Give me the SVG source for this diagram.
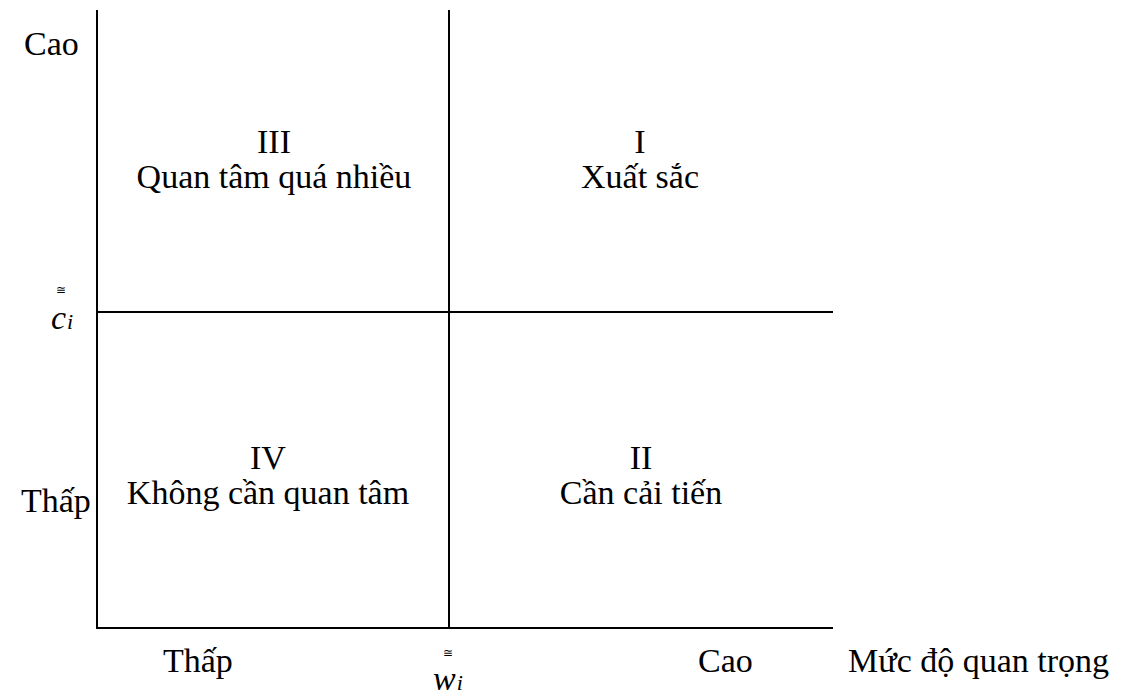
<svg xmlns="http://www.w3.org/2000/svg" width="1125" height="697" viewBox="0 0 1125 697">
<style>
text{font-family:"Liberation Serif","Times New Roman",serif;fill:#000}
.t{font-size:34px}
.m{text-anchor:middle}
.sym{font-size:12px}
.it{font-style:italic}
line{stroke:#000;stroke-width:2}
</style>
<rect width="1125" height="697" fill="#fff"/>
<g id="axes">
<line x1="97" y1="10" x2="97" y2="629"/>
<line x1="96" y1="628" x2="833" y2="628"/>
<line x1="449" y1="10" x2="449" y2="628"/>
<line x1="97" y1="312" x2="833" y2="312"/>
</g>
<g id="q3"><text class="t m" x="274" y="153">III</text><text class="t m" x="274" y="188">Quan tâm quá nhiều</text></g>
<g id="q1"><text class="t m" x="640" y="153">I</text><text class="t m" x="640" y="188">Xuất sắc</text></g>
<g id="q4"><text class="t m" x="268" y="469">IV</text><text class="t m" x="268" y="504">Không cần quan tâm</text></g>
<g id="q2"><text class="t m" x="641" y="469">II</text><text class="t m" x="641" y="504">Cần cải tiến</text></g>
<g id="ylabels">
<text class="t" x="24" y="55">Cao</text>
<text class="sym m" x="61" y="294">≅</text>
<text class="t it" x="51" y="329">c<tspan font-size="22" dx="1">i</tspan></text>
<text class="t" x="21" y="512">Thấp</text>
</g>
<g id="xlabels">
<text class="t" x="163" y="672">Thấp</text>
<text class="sym m" x="448" y="657">≅</text>
<text class="t it" x="433" y="690">w<tspan font-size="22" dx="1">i</tspan></text>
<text class="t" x="698" y="672">Cao</text>
<text class="t" x="848" y="672">Mức độ quan trọng</text>
</g>
</svg>
